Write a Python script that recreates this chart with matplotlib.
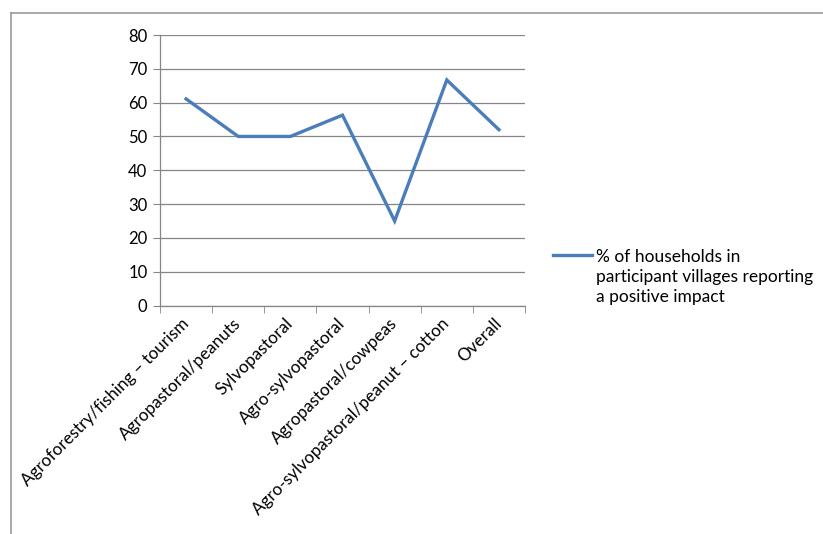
import matplotlib
matplotlib.use("Agg")
import matplotlib.pyplot as plt
from matplotlib.lines import Line2D

categories = [
    "Agroforestry/fishing \u2013 tourism",
    "Agropastoral/peanuts",
    "Sylvopastoral",
    "Agro-sylvopastoral",
    "Agropastoral/cowpeas",
    "Agro-sylvopastoral/peanut \u2013 cotton",
    "Overall",
]
values = [61.1, 50, 50, 56.3, 25, 66.7, 52]
series_name = "% of households in\nparticipant villages reporting\na positive impact"
y_ticks = [0, 10, 20, 30, 40, 50, 60, 70, 80]

plt.rcParams["font.family"] = ["Lato", "DejaVu Sans"]
blue = "#4A7EBB"
grey = "#868686"

fig = plt.figure(figsize=(8.23, 5.34), dpi=100)
ax = fig.add_axes([160 / 823, 1 - 305.5 / 534, 365 / 823, 270.5 / 534])

x = list(range(len(categories)))
line, = ax.plot(x, values, color=blue, lw=2.4, solid_joinstyle="miter")

ax.set_xlim(-0.5, len(categories) - 0.5)
ax.set_ylim(0, 80)
ax.set_yticks(y_ticks)
ax.tick_params(axis="y", labelsize=12, length=5, color=grey, pad=4, direction="out")
ax.yaxis.grid(True, color=grey, lw=0.9)
ax.set_axisbelow(True)

ax.set_xticks(x)
ax.set_xticklabels(categories, rotation=45, ha="right", va="center",
                   rotation_mode="anchor", fontsize=12.3)
ax.tick_params(axis="x", which="major", length=0, pad=11)
ax.set_xticks([i - 0.5 for i in range(len(categories) + 1)], minor=True)
ax.tick_params(axis="x", which="minor", length=5, color=grey, direction="out")

for s in ["top", "right"]:
    ax.spines[s].set_visible(False)
for s in ["left", "bottom"]:
    ax.spines[s].set_color(grey)
    ax.spines[s].set_linewidth(0.9)

fs = 12.5
ls = 1.27
leg = fig.legend([line], [series_name], loc="center left",
                 bbox_to_anchor=(553 / 823, 1 - 277 / 534), frameon=False,
                 fontsize=fs, handlelength=2.25, handletextpad=0.2,
                 borderpad=0, borderaxespad=0)
for t in leg.get_texts():
    t.set_linespacing(ls)
# Excel puts the legend key next to the first text line
for l in leg.get_lines():
    l.set_ydata([v + fs * ls for v in l.get_ydata()])

# outer chart frame (cut off by the image edges)
fig.add_artist(Line2D([11 / 823, 1], [1 - 13 / 534, 1 - 13 / 534],
                      transform=fig.transFigure, color="#999999", lw=1.2))
fig.add_artist(Line2D([11 / 823, 11 / 823], [0, 1 - 13 / 534],
                      transform=fig.transFigure, color="#999999", lw=1.2))

fig.savefig("out.png", dpi=100)
